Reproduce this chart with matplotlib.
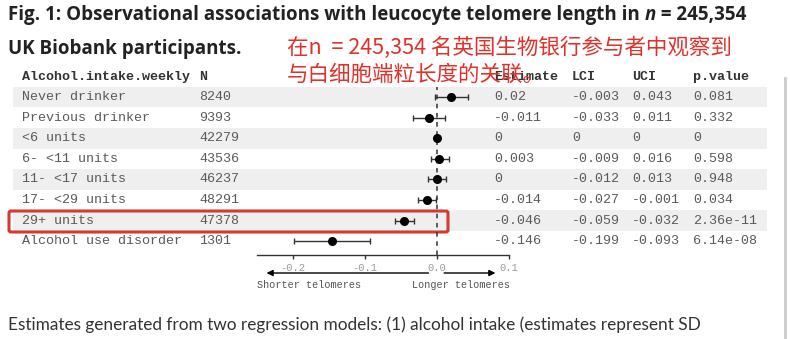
import matplotlib
matplotlib.use("Agg")
import matplotlib.pyplot as plt
from matplotlib.patches import Rectangle, FancyBboxPatch

# forest plot table: alcohol intake vs leucocyte telomere length
categories = ["Never drinker", "Previous drinker", "<6 units", "6- <11 units",
              "11- <17 units", "17- <29 units", "29+ units", "Alcohol use disorder"]
n_vals = [8240, 9393, 42279, 43536, 46237, 48291, 47378, 1301]
estimate = [0.02, -0.011, 0, 0.003, 0, -0.014, -0.046, -0.146]
lci = [-0.003, -0.033, 0, -0.009, -0.012, -0.027, -0.059, -0.199]
uci = [0.043, 0.011, 0, 0.016, 0.013, -0.001, -0.032, -0.093]
p_value = ["0.081", "0.332", "0", "0.598", "0.948", "0.034", "2.36e-11", "6.14e-08"]
estimate_txt = ["0.02", "-0.011", "0", "0.003", "0", "-0.014", "-0.046", "-0.146"]
lci_txt = ["-0.003", "-0.033", "0", "-0.009", "-0.012", "-0.027", "-0.059", "-0.199"]
uci_txt = ["0.043", "0.011", "0", "0.016", "0.013", "-0.001", "-0.032", "-0.093"]
x_ticks = [-0.2, -0.1, 0.0, 0.1]

W, H = 790, 339
MONO = "Liberation Mono"
row0, row_h = 97.0, 20.6

fig = plt.figure(figsize=(W / 100, H / 100), dpi=100)
bg = fig.add_axes([0, 0, 1, 1])
bg.set_xlim(0, W)
bg.set_ylim(H, 0)
bg.axis("off")

def row_y(i):
    return row0 + i * row_h

# title
title_kw = dict(fontsize=13.5, fontweight="bold", family="Open Sans", color="#222222", va="baseline")
renderer = fig.canvas.get_renderer()
t1 = bg.text(8, 20, "Fig. 1: Observational associations with leucocyte telomere length in ", **title_kw)
bb = t1.get_window_extent(renderer)
t2 = fig.text(bb.x1 / W, 1 - 20 / H, "n", style="italic", **title_kw)
bb2 = t2.get_window_extent(renderer)
fig.text(bb2.x1 / W, 1 - 20 / H, " = 245,354", **title_kw)
bg.text(8, 54, "UK Biobank participants.", **title_kw)

# zebra shading
for i in range(0, len(categories), 2):
    bg.add_patch(Rectangle((13, row_y(i) - row_h / 2), 754, row_h,
                           facecolor="#efefef", edgecolor="none", zorder=0))

# header
hdr_kw = dict(fontsize=9.6, family=MONO, fontweight="bold", color="#333333", va="center")
bg.text(22, 77, "Alcohol.intake.weekly", **hdr_kw)
bg.text(199, 77, "N", **hdr_kw)
bg.text(494, 77, "Estimate", **hdr_kw)
bg.text(572, 77, "LCI", **hdr_kw)
bg.text(632, 77, "UCI", **hdr_kw)
bg.text(693, 77, "p.value", **hdr_kw)

cell_kw = dict(fontsize=9.6, family=MONO, color="#5a5a5a", va="center")
for i, cat in enumerate(categories):
    y = row_y(i)
    bg.text(22, y, cat, **cell_kw)
    bg.text(199, y, str(n_vals[i]), **cell_kw)
    bg.text(494, y, estimate_txt[i], **cell_kw)
    bg.text(572, y, lci_txt[i], **cell_kw)
    bg.text(632, y, uci_txt[i], **cell_kw)
    bg.text(693, y, p_value[i], **cell_kw)

# highlight box around the 29+ units row
bg.add_patch(FancyBboxPatch((9, 211), 439, 21, boxstyle="round,pad=0,rounding_size=2",
                            facecolor="none", edgecolor="#d43a2f", linewidth=2.2, zorder=5))

# chinese annotation
cjk = ["Noto Sans CJK SC", "DejaVu Sans"]
bg.text(287, 48, "在n  = 245,354 名英国生物银行参与者中观察到", fontsize=15.5,
        family=cjk, color="#e0322b", va="center", zorder=6)
bg.text(287, 75, "与白细胞端粒长度的关联。", fontsize=15.5,
        family=cjk, color="#e0322b", va="center", zorder=6)

# caption below
bg.text(8, 325, "Estimates generated from two regression models: (1) alcohol intake (estimates represent SD",
        fontsize=12.4, family="Lato", color="#333333", va="center")
bg.plot([785, 785], [78, H], color="#cccccc", lw=2)

# forest plot
top_px, bot_px = 87, 255
left_px, right_px = 257, 509
ax = fig.add_axes([left_px / W, (H - bot_px) / H, (right_px - left_px) / W, (bot_px - top_px) / H])
ax.patch.set_alpha(0)
ax.set_xlim(-0.25, 0.1)
ax.set_ylim((bot_px - row0) / row_h, (top_px - row0) / row_h)
rows = list(range(len(categories)))
ax.axvline(0, color="#333333", lw=1.1, ls=(0, (3, 3)), zorder=1)
ax.errorbar(estimate, rows, xerr=[[e - l for e, l in zip(estimate, lci)],
                                  [u - e for e, u in zip(estimate, uci)]],
            fmt="o", color="black", ecolor="#333333", elinewidth=1, capsize=2.5,
            capthick=1, markersize=5.5, zorder=3)
for side in ["top", "right", "left"]:
    ax.spines[side].set_visible(False)
ax.spines["bottom"].set_color("#333333")
ax.spines["bottom"].set_linewidth(1)
ax.set_yticks([])
ax.set_xticks(x_ticks)
ax.set_xticklabels(["-0.2", "-0.1", "0.0", "0.1"], family=MONO, fontsize=7.6, color="#9a9a9a")
ax.tick_params(axis="x", length=3, width=1, color="#333333", pad=2.5)

arrow_y = (bot_px - 273) / (bot_px - top_px)
trans = ax.get_xaxis_transform()
ax.annotate("", xy=(-0.2406, arrow_y), xytext=(-0.008, arrow_y), xycoords=trans,
            textcoords=trans, annotation_clip=False,
            arrowprops=dict(arrowstyle="-|>", color="black", lw=1, mutation_scale=9))
ax.annotate("", xy=(0.085, arrow_y), xytext=(0.006, arrow_y), xycoords=trans,
            textcoords=trans, annotation_clip=False,
            arrowprops=dict(arrowstyle="-|>", color="black", lw=1, mutation_scale=9))
lab_y = (bot_px - 285) / (bot_px - top_px)
ax.text(-0.178, lab_y, "Shorter telomeres", transform=trans, ha="center", va="center",
        family=MONO, fontsize=7.3, color="#555555")
ax.text(0.033, lab_y, "Longer telomeres", transform=trans, ha="center", va="center",
        family=MONO, fontsize=7.3, color="#555555")

fig.savefig("out.png", dpi=100)
